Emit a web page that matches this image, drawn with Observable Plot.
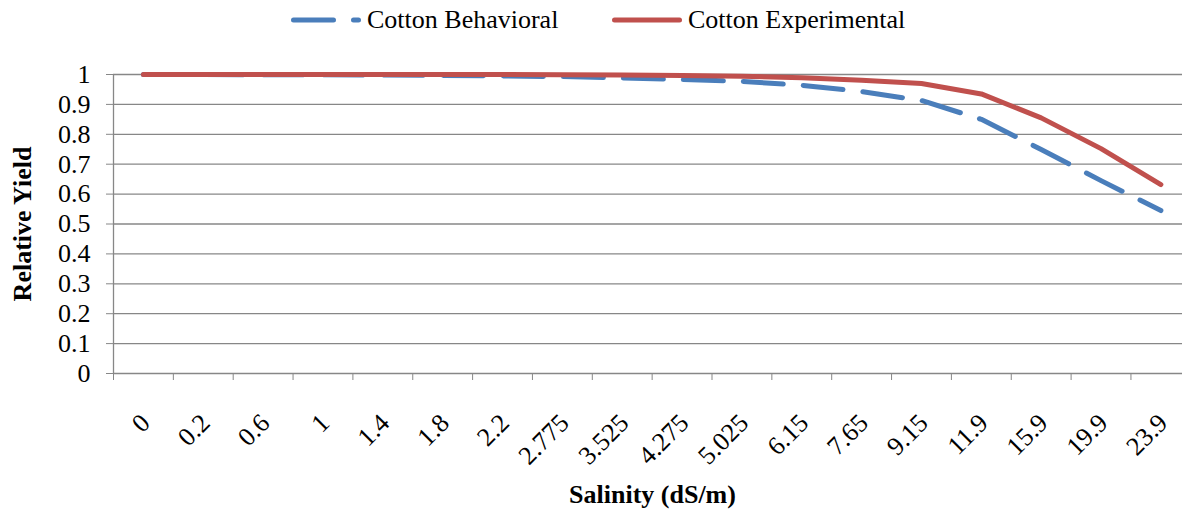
<!DOCTYPE html>
<html><head><meta charset="utf-8">
<script src="https://cdn.jsdelivr.net/npm/d3@7"></script>
<script src="https://cdn.jsdelivr.net/npm/@observablehq/plot@0.6"></script>
<style>
body{margin:0;background:#fff;}
#wrap{position:relative;width:1182px;height:509px;overflow:hidden;font-family:"Liberation Serif","Times New Roman",serif;background:#fff;}
#wrap svg.plot{position:absolute;left:0;top:0;}
#wrap svg.plot text{font-family:"Liberation Serif","Times New Roman",serif;}
.leg{position:absolute;top:0;height:40px;display:flex;align-items:center;font-size:26px;white-space:nowrap;color:#000;}
.leg span{margin-left:6px;}
</style></head><body>
<div id="wrap"></div>
<script>
// ---- data ----
const categories = ["0","0.2","0.6","1","1.4","1.8","2.2","2.775","3.525","4.275","5.025","6.15","7.65","9.15","11.9","15.9","19.9","23.9"];
const behavioral   = [1,1,0.999,0.999,0.998,0.997,0.995,0.993,0.988,0.983,0.977,0.964,0.943,0.913,0.85,0.749,0.645,0.545];
const experimental = [1,1,1,1,1,1,1,0.999,0.998,0.997,0.994,0.989,0.981,0.97,0.935,0.855,0.752,0.632];
const seriesNames = ["Cotton Behavioral","Cotton Experimental"];
const seriesColors = ["#4a7ebb","#c0504d"];
const yTicks = [0,0.1,0.2,0.3,0.4,0.5,0.6,0.7,0.8,0.9,1];
const yTickLabels = ["0","0.1","0.2","0.3","0.4","0.5","0.6","0.7","0.8","0.9","1"];
const xTitle = "Salinity (dS/m)";
const yTitle = "Relative Yield";

// ---- build ----
const font = "Liberation Serif";
const gray = "#878787";
const rows = [];
categories.forEach((c,i)=>{
  rows.push({i, cat:c, series:seriesNames[0], value:behavioral[i]});
  rows.push({i, cat:c, series:seriesNames[1], value:experimental[i]});
});
const boundaries = categories.map((_,i)=>i);
const n = categories.length;

const boldText = {fontWeight:"bold", fontSize:26, fontFamily:font, fill:"#000"};

const chart = Plot.plot({
  width:1182, height:509,
  marginLeft:113, marginRight:0, marginTop:74, marginBottom:136,
  style:{fontFamily:font, fontSize:"26px", color:"#000", background:"transparent"},
  x:{type:"linear", domain:[0,n], range:[113, 113 + n*59.85], label:null},
  y:{domain:[0,1], label:null},
  marks:[
    Plot.ruleY(yTicks.filter(v=>v>0), {stroke:gray, strokeWidth:1.3}),
    Plot.ruleY([0], {stroke:gray, strokeWidth:1.3}),
    Plot.ruleX([0], {y1:0, y2:1, stroke:gray, strokeWidth:1.3}),
    Plot.axisY({ticks:yTicks, tickSize:7, tickPadding:16, label:null,
      tickFormat:d=>yTickLabels[yTicks.indexOf(d)], stroke:gray, fill:"#000", fontSize:26, fontFamily:font}),
    Plot.axisX({ticks:boundaries, tickSize:7, label:null, tickFormat:()=>"", stroke:gray}),
    Plot.text(categories, {x:(d,i)=>i+0.5, y:()=>0, text:d=>d, rotate:-45,
      textAnchor:"end", lineAnchor:"top", dx:-5, dy:38, fontSize:26, fontFamily:font, fill:"#000"}),
    Plot.line(rows.filter(d=>d.series===seriesNames[0]), {x:d=>d.i+0.5, y:"value",
      stroke:seriesColors[0], strokeWidth:5, strokeDasharray:"40 20", strokeLinecap:"round", strokeLinejoin:"round"}),
    Plot.line(rows.filter(d=>d.series===seriesNames[1]), {x:d=>d.i+0.5, y:"value",
      stroke:seriesColors[1], strokeWidth:5, strokeLinecap:"round", strokeLinejoin:"round"}),
    Plot.text([yTitle], {frameAnchor:"left", rotate:-90, dx:-91, textAnchor:"middle", lineAnchor:"middle", ...boldText}),
    Plot.text([xTitle], {frameAnchor:"bottom", dx:4.5, dy:121, textAnchor:"middle", lineAnchor:"middle", ...boldText})
  ]
});
chart.classList.add("plot");
const wrap = document.getElementById("wrap");
wrap.appendChild(chart);

// ---- legend ----
const legendLeft = [291, 612];
seriesNames.forEach((name,k)=>{
  const item = document.createElement("div");
  item.className = "leg";
  item.style.left = legendLeft[k] + "px";
  const dash = k===0 ? 'stroke-dasharray="40 20"' : '';
  item.innerHTML = `<svg width="70" height="10" style="overflow:visible"><line x1="2.5" y1="5" x2="67.5" y2="5" stroke="${seriesColors[k]}" stroke-width="5" stroke-linecap="round" ${dash}/></svg><span>${name}</span>`;
  wrap.appendChild(item);
});
</script>
</body></html>
